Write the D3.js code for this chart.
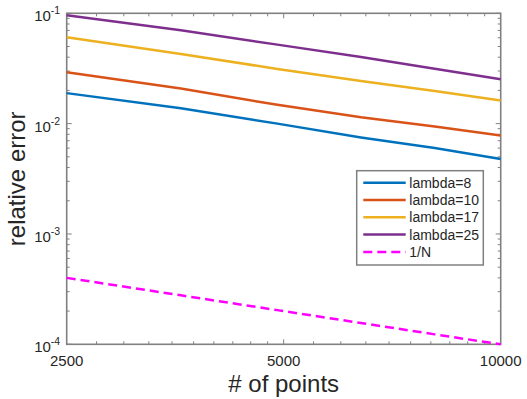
<!DOCTYPE html>
<html>
<head>
<meta charset="utf-8">
<script src="https://cdn.jsdelivr.net/npm/d3@7"></script>
<style>
  body { margin: 0; background: #fff; }
  text { font-family: "Liberation Sans", Arial, sans-serif; fill: #262626; }
</style>
</head>
<body>
<svg id="chart" width="527" height="399"></svg>
<script>
// number of points (x) and relative error per lambda (y)
const points = [2500, 3600, 4900, 6400, 8100, 10000];
const lambda8 = [0.0189, 0.0138, 0.0100, 0.0075, 0.0060, 0.00477];
const lambda10 = [0.0292, 0.0208, 0.0148, 0.0114, 0.0094, 0.0078];
const lambda17 = [0.0607, 0.0428, 0.0313, 0.0243, 0.0198, 0.0162];
const lambda25 = [0.0959, 0.0702, 0.0520, 0.0401, 0.0315, 0.0253];
const oneOverN = [0.0004, 0.000278, 0.000204, 0.000156, 0.000123, 0.0001];

const seriesNames = ["lambda=8", "lambda=10", "lambda=17", "lambda=25", "1/N"];
const seriesColors = ["#0072BD", "#D95319", "#EDB120", "#7E2F8E", "#FF00FF"];

const xTicks = [2500, 5000, 10000];
const xMinorTicks = [2750, 3000, 3250, 3500, 3750, 4000, 4250, 4500, 4750,
                     5500, 6000, 6500, 7000, 7500, 8000, 8500, 9000, 9500];
const yTicks = [1e-4, 1e-3, 1e-2, 1e-1];
const yTickExponents = ["-4", "-3", "-2", "-1"];

const margin = {top: 13.3, left: 66.7, right: 26.3, bottom: 54.7};
const width = 527 - margin.left - margin.right;
const height = 399 - margin.top - margin.bottom;
const axisColor = "#808080";

const svg = d3.select("#chart");
const g = svg.append("g").attr("transform", `translate(${margin.left},${margin.top})`);

const x = d3.scaleLog().domain([2500, 10000]).range([0, width]);
const y = d3.scaleLog().domain([1e-4, 1e-1]).range([height, 0]);

// box
g.append("rect").attr("width", width).attr("height", height)
  .attr("fill", "none").attr("stroke", axisColor).attr("stroke-width", 1.6);

// ticks on all four sides, pointing inward
const yMinor = y.ticks().filter(v => !yTicks.some(t => Math.abs(t - v) / t < 1e-9));
function tickMarks(vals, len, isX) {
  vals.forEach(v => {
    if (isX) {
      const px = x(v);
      g.append("line").attr("x1", px).attr("x2", px).attr("y1", height).attr("y2", height - len);
      g.append("line").attr("x1", px).attr("x2", px).attr("y1", 0).attr("y2", len);
    } else {
      const py = y(v);
      g.append("line").attr("x1", 0).attr("x2", len).attr("y1", py).attr("y2", py);
      g.append("line").attr("x1", width).attr("x2", width - len).attr("y1", py).attr("y2", py);
    }
  });
}
tickMarks(xTicks.slice(1, -1), 5, true);
tickMarks(xMinorTicks, 3, true);
tickMarks(yTicks, 5, false);
tickMarks(yMinor, 3, false);
g.selectAll("line").attr("stroke", axisColor).attr("stroke-width", 1);

// tick labels
g.selectAll(".xlab").data(xTicks).enter().append("text")
  .attr("x", d => x(d)).attr("y", height + 21.7)
  .attr("text-anchor", "middle").attr("font-size", 15)
  .text(d => d);

const yl = g.selectAll(".ylab").data(yTicks).enter().append("text")
  .attr("x", -6.5).attr("y", d => y(d) + 8)
  .attr("text-anchor", "end").attr("font-size", 15);
yl.append("tspan").text("10");
yl.append("tspan").attr("dy", -7).attr("font-size", 10.5)
  .text((d, i) => yTickExponents[i]);

// axis titles
g.append("text").attr("x", width / 2).attr("y", 392 - margin.top)
  .attr("text-anchor", "middle").attr("font-size", 24).text("# of points");
g.append("text").attr("transform", `translate(${25 - margin.left},${height / 2}) rotate(-90)`)
  .attr("text-anchor", "middle").attr("font-size", 24).text("relative error");

// lines
const allSeries = [lambda8, lambda10, lambda17, lambda25, oneOverN];
const line = d3.line().x((d, i) => x(points[i])).y(d => y(d));
allSeries.forEach((s, k) => {
  g.append("path").datum(s)
    .attr("d", line)
    .attr("fill", "none")
    .attr("stroke", seriesColors[k])
    .attr("stroke-width", 2.5)
    .attr("stroke-dasharray", k === 4 ? "9,5" : null);
});

// legend
const lg = svg.append("g").attr("transform", "translate(356.7,170.7)");
lg.append("rect").attr("width", 126.6).attr("height", 94.3)
  .attr("fill", "#fff").attr("stroke", axisColor).attr("stroke-width", 1.5);
seriesNames.forEach((name, k) => {
  const ly = 12 + k * 17.3;
  lg.append("line").attr("x1", 6.6).attr("x2", 49).attr("y1", ly).attr("y2", ly)
    .attr("stroke", seriesColors[k]).attr("stroke-width", 2.5)
    .attr("stroke-dasharray", k === 4 ? "9,5" : null);
  lg.append("text").attr("x", 52.6).attr("y", ly + 5)
    .attr("font-size", 14).text(name);
});
</script>
</body>
</html>
